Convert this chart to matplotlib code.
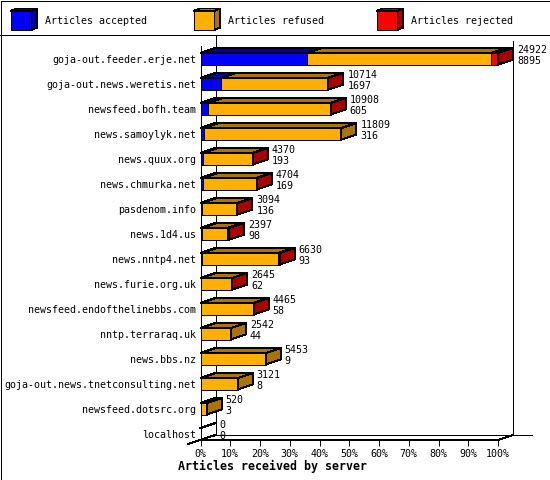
import matplotlib
matplotlib.use("Agg")
import matplotlib.pyplot as plt
from matplotlib.patches import Polygon, Rectangle

# ---------------- data ----------------
hosts = [
    "goja-out.feeder.erje.net",
    "goja-out.news.weretis.net",
    "newsfeed.bofh.team",
    "news.samoylyk.net",
    "news.quux.org",
    "news.chmurka.net",
    "pasdenom.info",
    "news.1d4.us",
    "news.nntp4.net",
    "news.furie.org.uk",
    "newsfeed.endofthelinebbs.com",
    "nntp.terraraq.uk",
    "news.bbs.nz",
    "goja-out.news.tnetconsulting.net",
    "newsfeed.dotsrc.org",
    "localhost",
]
offered = [24922, 10714, 10908, 11809, 4370, 4704, 3094, 2397, 6630, 2645, 4465, 2542, 5453, 3121, 520, 0]
accepted = [8895, 1697, 605, 316, 193, 169, 136, 98, 93, 62, 58, 44, 9, 8, 3, 0]
rejected = [550, 120, 50, 0, 15, 15, 10, 150, 150, 10, 20, 0, 0, 0, 0, 0]
refused = [o - a - r for o, a, r in zip(offered, accepted, rejected)]

series_names = ["Articles accepted", "Articles refused", "Articles rejected"]
tick_values = list(range(0, 101, 10))
tick_labels = [f"{t}%" for t in tick_values]
x_title = "Articles received by server"

front_colors = ["#0000FF", "#FFAF00", "#FF0000"]
dark_colors = ["#0000AA", "#AA7400", "#AA0000"]

MONO = "DejaVu Sans Mono"
FS = 7.2
LW = 0.72

W, H = 550, 480
fig = plt.figure(figsize=(5.5, 4.8), dpi=100)
fig.patch.set_facecolor("white")

# overlay for frame and legend (pixel coordinates)
ov = fig.add_axes([0, 0, 1, 1])
ov.set_xlim(0, W)
ov.set_ylim(H, 0)
ov.axis("off")
ov.add_patch(Rectangle((0.5, 0.5), W - 1, H - 1, fill=False, edgecolor="black",
                       lw=LW, antialiased=False))
ov.plot([0, W], [35, 35], color="black", lw=LW, antialiased=False)
for k, lx in enumerate([10.5, 193.7, 376.5]):
    fw, fy0, fy1, ddx, ddy = 20.5, 11, 30, 6, 2.5
    ov.add_patch(Polygon([(lx + fw, fy0), (lx + fw + ddx, fy0 - ddy), (lx + fw + ddx, fy1 - ddy), (lx + fw, fy1)],
                         closed=True, facecolor=dark_colors[k], edgecolor="black", lw=LW, antialiased=False))
    ov.add_patch(Polygon([(lx, fy0), (lx + fw, fy0), (lx + fw + ddx, fy0 - ddy), (lx + ddx, fy0 - ddy)],
                         closed=True, facecolor=dark_colors[k], edgecolor="black", lw=LW, antialiased=False))
    ov.add_patch(Polygon([(lx, fy0), (lx + fw, fy0), (lx + fw, fy1), (lx, fy1)],
                         closed=True, facecolor=front_colors[k], edgecolor="black", lw=LW, antialiased=False))
    ov.text(lx + 34.2, 21, series_names[k], ha="left", va="center", fontsize=FS, family=MONO)

# main axes: x in percent, y in row index
x0_px, x100_px = 200.5, 498.0
top_px, floor_px = 46.25, 440.0
ax = fig.add_axes([x0_px / W, 1 - floor_px / H, (x100_px - x0_px) / W, (floor_px - top_px) / H])
ax.set_facecolor("none")
ymax = len(hosts) - 0.75
ax.set_xlim(0, 100)
ax.set_ylim(ymax, -0.5)
for s in ax.spines.values():
    s.set_visible(False)

px_x = 100.0 / (x100_px - x0_px)
px_y = (ymax + 0.5) / (floor_px - top_px)
dx = 15 * px_x
dy = 5 * px_y
hh = 5.75 * px_y

# axes / walls
lkw = dict(color="black", lw=LW, clip_on=False, antialiased=False, zorder=1)
ax.plot([0, 0], [-0.5, ymax], **lkw)
ax.plot([dx, dx], [ymax - dy, -0.95], **lkw)
ax.plot([100 + dx, 100 + dx], [ymax - dy, -0.5 - dy], **lkw)
ax.plot([0, 100, 100 + dx], [ymax, ymax, ymax - dy], **lkw)
ax.plot([dx, 100 + dx + 19 * px_x], [ymax - dy, ymax - dy], **lkw)
ax.plot([-12.5 * px_x, dx], [ymax + 4 * px_y, ymax - dy], **lkw)

vmax = max(offered)
pkw = dict(closed=True, edgecolor="black", lw=LW, clip_on=False, antialiased=False, zorder=3)
for i in range(len(hosts)):
    c = i
    yt, yb = c - hh, c + hh
    segs = [accepted[i], refused[i], rejected[i]]
    left = 0.0
    last = None
    for k, v in enumerate(segs):
        w = v / vmax * 100.0
        if w <= 0:
            continue
        r = left + w
        ax.add_patch(Polygon([(left, yt), (r, yt), (r + dx, yt - dy), (left + dx, yt - dy)],
                             facecolor=dark_colors[k], **pkw))
        ax.add_patch(Polygon([(left, yt), (r, yt), (r, yb), (left, yb)],
                             facecolor=front_colors[k], **pkw))
        left = r
        last = k
    if last is not None:
        ax.add_patch(Polygon([(left, yt), (left + dx, yt - dy), (left + dx, yb - dy), (left, yb)],
                             facecolor=dark_colors[last], **pkw))
    else:
        ax.plot([0, dx], [yt, yt - dy], color="black", lw=LW, clip_on=False, antialiased=False, zorder=3)
    end = offered[i] / vmax * 100.0
    tx = end + dx + 4 * px_x
    ymid = c - 3.6 * px_y
    ax.text(tx, ymid - 5.6 * px_y, str(offered[i]), ha="left", va="center",
            fontsize=FS, family=MONO, clip_on=False, zorder=4)
    ax.text(tx, ymid + 5.6 * px_y, str(accepted[i]), ha="left", va="center",
            fontsize=FS, family=MONO, clip_on=False, zorder=4)

ax.set_xticks(tick_values)
ax.set_xticklabels(tick_labels, family=MONO, fontsize=FS)
ax.set_yticks(range(len(hosts)))
ax.set_yticklabels(hosts, family=MONO, fontsize=FS)
ax.tick_params(axis="x", length=4.32, width=LW, direction="out", pad=2.0, colors="black")
ax.tick_params(axis="y", length=0, pad=3.0, colors="black")

fig.text(273 / W, 1 - 466.7 / H, x_title, ha="center", va="center",
         fontsize=8.4, fontweight="bold", family=MONO)

fig.savefig("out.png", dpi=100, facecolor="white")
